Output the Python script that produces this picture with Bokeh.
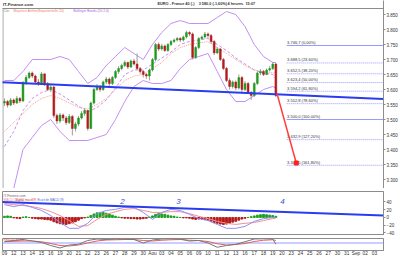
from bokeh.plotting import figure
from bokeh.layouts import column
from bokeh.models import Range1d, FixedTicker, NumeralTickFormatter, Label
from bokeh.core.properties import value
from bokeh.embed import file_html
from bokeh.resources import INLINE

FONT = "Liberation Sans"

# ---------------- data ----------------
day_labels = ["09", "12", "13", "14", "15", "16", "19", "20", "21", "22", "23", "26", "27", "28", "29", "30",
              "Aou", "03", "04", "05", "06", "09", "10", "11", "12", "13", "16", "17", "18", "19", "20",
              "23", "24", "25", "26", "27", "30", "31", "Sep", "02", "03"]
candles_per_day = 3
first_open = 3.555
closes = [3.560, 3.548, 3.565, 3.555, 3.570, 3.562, 3.623, 3.640, 3.655, 3.645,
          3.625, 3.622, 3.652, 3.620, 3.600, 3.608, 3.513, 3.495, 3.515, 3.505,
          3.490, 3.510, 3.470, 3.485, 3.505, 3.520, 3.530, 3.470, 3.555, 3.600,
          3.610, 3.600, 3.625, 3.635, 3.620, 3.640, 3.660, 3.670, 3.680, 3.690,
          3.675, 3.695, 3.685, 3.670, 3.660, 3.650, 3.645, 3.665, 3.700, 3.750,
          3.735, 3.745, 3.730, 3.750, 3.760, 3.765, 3.770, 3.765, 3.775, 3.790,
          3.785, 3.707, 3.740, 3.770, 3.775, 3.785, 3.780, 3.760, 3.722, 3.735,
          3.700, 3.670, 3.630, 3.610, 3.625, 3.605, 3.640, 3.600, 3.620, 3.590,
          3.580, 3.620, 3.655, 3.660, 3.650, 3.665, 3.670, 3.685, 3.580]
highs = [3.570, 3.565, 3.572, 3.570, 3.578, 3.575, 3.628, 3.648, 3.660, 3.660,
         3.650, 3.635, 3.658, 3.655, 3.625, 3.615, 3.612, 3.520, 3.522, 3.520,
         3.512, 3.518, 3.515, 3.492, 3.512, 3.528, 3.538, 3.532, 3.560, 3.605,
         3.618, 3.615, 3.630, 3.642, 3.640, 3.645, 3.665, 3.678, 3.686, 3.697,
         3.693, 3.700, 3.702, 3.720, 3.675, 3.665, 3.655, 3.670, 3.705, 3.755,
         3.757, 3.752, 3.750, 3.755, 3.765, 3.770, 3.775, 3.775, 3.780, 3.796,
         3.794, 3.790, 3.745, 3.775, 3.780, 3.792, 3.790, 3.785, 3.765, 3.742,
         3.738, 3.705, 3.675, 3.638, 3.630, 3.630, 3.650, 3.645, 3.628, 3.625,
         3.595, 3.625, 3.660, 3.668, 3.665, 3.670, 3.678, 3.692, 3.688]
lows = [3.545, 3.540, 3.545, 3.548, 3.552, 3.555, 3.558, 3.615, 3.635, 3.638,
        3.618, 3.612, 3.618, 3.612, 3.595, 3.592, 3.505, 3.485, 3.488, 3.495,
        3.482, 3.485, 3.447, 3.460, 3.478, 3.500, 3.512, 3.463, 3.468, 3.550,
        3.595, 3.592, 3.595, 3.618, 3.612, 3.615, 3.635, 3.652, 3.664, 3.675,
        3.668, 3.672, 3.680, 3.665, 3.652, 3.640, 3.635, 3.630, 3.660, 3.695,
        3.728, 3.730, 3.725, 3.725, 3.745, 3.755, 3.760, 3.758, 3.760, 3.770,
        3.778, 3.700, 3.702, 3.735, 3.765, 3.770, 3.772, 3.752, 3.715, 3.718,
        3.695, 3.665, 3.625, 3.600, 3.603, 3.597, 3.600, 3.590, 3.595, 3.585,
        3.565, 3.575, 3.615, 3.648, 3.645, 3.648, 3.660, 3.665, 3.575]

# indicator lines, sampled once per trading day (last point = last candle)
ind_days = [0, 1, 2, 3, 4, 5, 6, 7, 8, 9, 10, 11, 12, 13, 14, 15, 16, 17, 18, 19,
            20, 21, 22, 23, 24, 25, 26, 27, 28, 29, 29.33]
bb_upper = [3.63, 3.63, 3.66, 3.70, 3.70, 3.70, 3.71, 3.70, 3.66, 3.62, 3.64, 3.68, 3.71, 3.74, 3.72,
            3.70, 3.75, 3.79, 3.82, 3.83, 3.82, 3.82, 3.82, 3.84, 3.86, 3.85, 3.81, 3.75, 3.71, 3.69, 3.690]
bb_lower = [3.15, 3.27, 3.40, 3.44, 3.48, 3.50, 3.46, 3.43, 3.43, 3.43, 3.44, 3.45, 3.50, 3.56, 3.61,
            3.63, 3.62, 3.62, 3.63, 3.67, 3.70, 3.71, 3.72, 3.66, 3.60, 3.56, 3.56, 3.58, 3.60, 3.61, 3.605]
bb_mid = [3.41, 3.46, 3.53, 3.57, 3.59, 3.60, 3.585, 3.565, 3.545, 3.525, 3.54, 3.565, 3.605, 3.65, 3.665,
          3.665, 3.685, 3.705, 3.725, 3.75, 3.76, 3.765, 3.77, 3.75, 3.73, 3.705, 3.685, 3.665, 3.655, 3.65, 3.637]
ema20 = [3.46, 3.49, 3.52, 3.55, 3.57, 3.58, 3.57, 3.555, 3.54, 3.535, 3.55, 3.57, 3.60, 3.63, 3.645,
         3.65, 3.67, 3.69, 3.72, 3.74, 3.75, 3.755, 3.76, 3.74, 3.72, 3.70, 3.68, 3.665, 3.66, 3.655, 3.655]

trend_days = [-0.43, 40.97]
trend_price = [3.624, 3.568]

fib_high = 3.7467
fib_low = 3.5000
fib_pct = [0.0, 23.6, 38.2, 50.0, 61.8, 78.6, 100.0, 127.2, 161.8]
fib_start_day = 30.5

arrow_days = [29.45, 31.54]
arrow_price = [3.587, 3.355]

macd_line = [33, 28, 33, 26, 18, 5, -13, -28, -28, -15, 10, 18, 21, 26, 26, 13, -5, 13, 21, 18,
             8, -3, -8, -18, -28, -28, -23, -10, -3, 0, 0]
macd_signal = [36, 33, 31, 28, 23, 15, 5, -8, -23, -21, -5, 8, 15, 21, 23, 18, 13, 13, 15, 15,
               10, 3, -3, -10, -15, -18, -15, -13, -8, -3, -2]
macd_hist = [3, 4, 3, -1, -2, -3, 1, 2, 0, -2, -3, -4, -4, -5, -6, -7, -11, -14, -16, -18, -18,
             -16, -14, -11, -7, -3, -1, 1, 5, 9, 12, 13, 13, 11, 9, 6, 3, 1, -1, -2, -2, -3,
             -3, -4, -4, -3, -2, 1, 4, 8, 10, 9, 8, 6, 4, 3, 1, 0, -1, -1, -2, -4, -5, -4, -4, -5,
             -7, -10, -13, -15, -17, -18, -17, -15, -12, -10, -7, -4, -2, 0, 2, 4, 6, 7, 8, 7, 6, 5, 3]
macd_trend = [40, 5.2]

rsi = [55, 60, 64, 58, 52, 40, 30, 42, 45, 60, 66, 64, 66, 66, 64, 50, 62, 66, 67, 66,
       58, 60, 50, 33, 40, 45, 55, 66, 67, 66, 45]
rsi_signal = [56, 57, 58, 58, 55, 48, 40, 38, 42, 50, 58, 62, 63, 64, 64, 60, 58, 61, 63, 64,
              61, 60, 56, 47, 42, 44, 48, 56, 61, 63, 60]

# ---------------- layout helpers ----------------
XR = Range1d(-0.216, 40.97)
GRAY = "#8c8c8c"


def panel(height, y_range, bottom=0, top=0, yaxis=True, xaxis=False):
    p = figure(width=400, height=height, x_range=XR, y_range=y_range,
               output_backend="svg", toolbar_location=None,
               x_axis_location="below" if xaxis else None,
               y_axis_location="right" if yaxis else None,
               min_border_left=2, min_border_right=17, min_border_top=top, min_border_bottom=bottom)
    p.grid.visible = False
    p.outline_line_color = GRAY
    p.background_fill_color = "white"
    p.border_fill_color = "white"
    return p


def style_axis(ax, ticks):
    ax.ticker = FixedTicker(ticks=ticks)
    ax.major_label_text_font_size = "4.5px"
    ax.major_label_text_font = FONT
    ax.major_label_text_color = "#333333"
    ax.major_label_standoff = 1
    ax.major_tick_out = 2
    ax.major_tick_in = 0
    ax.minor_tick_out = 0
    ax.minor_tick_in = 0
    ax.axis_line_color = GRAY
    ax.major_tick_line_color = GRAY


def fmt_price(v):
    s = f"{v * 1000:.1f}"
    ent, dec = s.split(".")
    return f"{ent[0]}.{ent[1:]},{dec}"


# ---------------- main price panel (header row lives in the top 8 px of its frame) ----------------
PX = 300.0            # pixels per price unit
PLOT_TOP = 3.87       # price at the top edge of the price area
main = panel(188, Range1d(3.27, PLOT_TOP + 8 / PX))
main.outline_line_color = None
style_axis(main.yaxis[0], [3.25, 3.30, 3.35, 3.40, 3.45, 3.50, 3.55, 3.60, 3.65, 3.70, 3.75, 3.80, 3.85])
main.yaxis[0].formatter = NumeralTickFormatter(format="0.000")

# frame lines of the price area
main.line([-0.3, 41.5], [PLOT_TOP, PLOT_TOP], line_color=GRAY, line_width=1)
main.line([-0.17, -0.17], [3.2, PLOT_TOP], line_color=GRAY, line_width=1)

hdr_y = PLOT_TOP + 4.3 / PX
main.text(x=[-0.19], y=[hdr_y], text=["IT-Finance.com"], text_font=value(FONT), text_font_size="4.2px",
          text_font_style="bold", text_color="#333333", text_baseline="middle")
main.text(x=[16.54, 20.99, 24.11, 26.05], y=[hdr_y] * 4,
          text=["EURO - France 40 (-)", "3 580,0 (-1,60%)", "4 heures", "15:07"],
          text_font=value(FONT), text_font_size="3.8px", text_font_style="bold",
          text_color="#333333", text_baseline="middle")

cx = [i / candles_per_day for i in range(len(closes))]
opens = [first_open] + closes[:-1]
up = [c >= o for o, c in zip(opens, closes)]
tops = [max(o, c) for o, c in zip(opens, closes)]
bots = [min(o, c) for o, c in zip(opens, closes)]
cols = ["#1f9a1f" if u else "#b41a1a" for u in up]

# bollinger + ema
main.line(ind_days, bb_upper, line_color="#c48ff2", line_width=1)
main.line(ind_days, bb_lower, line_color="#c48ff2", line_width=1)
main.line(ind_days, bb_mid, line_color="#c48ff2", line_width=1, line_dash="3 2")
main.line(ind_days, ema20, line_color="#f3a48c", line_width=1, line_dash="1 1")

main.segment(x0=cx, y0=highs, x1=cx, y1=lows, line_color="#9a9a9a", line_width=1)
main.vbar(x=cx, width=0.2, top=tops, bottom=bots, fill_color=cols, line_color=cols, line_width=0.5)

# trend line
main.line(trend_days, trend_price, line_color="#2a3cf0", line_width=2)

# fibonacci
rng = fib_high - fib_low
fib_prices = [fib_high - p / 100.0 * rng for p in fib_pct]
for pct, fp in zip(fib_pct, fib_prices):
    solid = pct in (0.0, 100.0)
    main.line([fib_start_day, 40.97], [fp, fp], line_color="#9a9aff", line_width=1,
              line_dash="solid" if solid else "1 1")
fib_texts = [f"{fmt_price(fp)} ({pct:.2f}%)".replace(".", ",", 2).replace(",", ".", 1)
             for pct, fp in zip(fib_pct, fib_prices)]
main.text(x=[fib_start_day + 0.05] * len(fib_prices), y=[fp + 0.002 for fp in fib_prices],
          text=fib_texts, text_font=value(FONT), text_font_size="4px", text_color="#333333",
          text_baseline="bottom")

# projection arrow
main.line(arrow_days, arrow_price, line_color="#ff3b3b", line_width=1.5)
main.scatter([arrow_days[1]], [arrow_price[1]], marker="square", size=4, fill_color="#ff2020",
             line_color="#ff2020")

# legend texts
main.text(x=[-0.1, 0.97, 7.46], y=[PLOT_TOP - 2.0 / PX] * 3,
          text=["C/o:", "Moyenne Arithm(Exponentielle 20)", "Bollinger Bands (20 2.0)"],
          text_color=["#777777", "#f08070", "#b060e0"], text_font=value(FONT), text_font_size="3.3px",
          text_baseline="middle")

# right side badges
badges = [(bb_upper[-1], "#b070e8", "white"), (ema20[-1], "#f08080", "white"),
          (bb_mid[-1], "#b070e8", "white"), (closes[-1], "#a07800", "#ffd21f"),
          (trend_price[-1], "#3040e0", "white")]
for v, bc, fc in badges:
    main.add_layout(Label(x=41.1, y=v, text=f"{v:.3f}", text_font=FONT, text_font_size="4px",
                          text_color="#333333", text_baseline="middle", background_fill_color=fc,
                          border_line_color=bc, border_line_width=1))


# ---------------- separator ----------------
def sep(h):
    s = figure(width=400, height=h, x_range=Range1d(0, 1), y_range=Range1d(0, 1),
               output_backend="svg", toolbar_location=None, x_axis_location=None, y_axis_location=None,
               min_border_left=0, min_border_right=17, min_border_top=0, min_border_bottom=0)
    s.grid.visible = False
    s.outline_line_color = None
    s.background_fill_color = "#a6a6a6"
    s.border_fill_color = "white"
    return s


sep1 = sep(3)

# ---------------- MACD panel ----------------
macd = panel(44, Range1d(-46.5, 67))
style_axis(macd.yaxis[0], [-40, -20, 0, 20, 40])
hist_cols = ["#1fa01f" if h >= 0 else "#b41a1a" for h in macd_hist]
macd.vbar(x=cx, width=0.2, top=macd_hist, bottom=0, fill_color=hist_cols, line_color=hist_cols)
macd.line(ind_days, macd_signal, line_color="#f59090", line_width=1)
macd.line(ind_days, macd_line, line_color="#8f8fff", line_width=1)
macd.line(trend_days, macd_trend, line_color="#2a3cf0", line_width=2)
macd.text(x=[12.76, 18.8, 30.06], y=[41, 41, 41], text=["2", "3", "4"], text_color="#3a4ae0",
          text_font=value(FONT), text_font_size="8px", text_font_style="italic", text_baseline="middle",
          text_align="center")
macd.text(x=[-0.1], y=[57], text=["IT-Finance.com"], text_color="#666666", text_font=value(FONT),
          text_font_size="3.2px", text_baseline="middle")
macd.text(x=[-0.1, 1.19, 3.57], y=[46, 46, 46], text=["MACD (12,26)", "Signal macd(9)", "Ecart de MACD (9)"],
          text_color=["#f08080", "#d04040", "#5060e0"], text_font=value(FONT), text_font_size="3.1px",
          text_baseline="middle")
macd.add_layout(Label(x=41.1, y=macd_hist[-1], text="2.9143", text_font=FONT, text_font_size="4px",
                      text_color="#333333", text_baseline="middle", background_fill_color="white",
                      border_line_color="#f08080", border_line_width=1))

sep2 = sep(3)

# ---------------- RSI panel + date axis ----------------
rsip = panel(29, Range1d(20, 68), bottom=17, xaxis=True)
style_axis(rsip.yaxis[0], [])
ax = rsip.xaxis[0]
ax.ticker = FixedTicker(ticks=list(range(len(day_labels))))
ax.major_label_overrides = {i: lab for i, lab in enumerate(day_labels)}
ax.major_label_text_font_size = "4.8px"
ax.major_label_text_font = FONT
ax.major_label_text_color = "#333333"
ax.major_label_standoff = 0
ax.major_tick_out = 0
ax.major_tick_in = 0
ax.minor_tick_out = 0
ax.minor_tick_in = 0
ax.axis_line_color = GRAY
rsip.line([-0.3, 41], [50, 50], line_color="#9a9aff", line_width=1)
rsip.line(ind_days, rsi_signal, line_color="#e06060", line_width=1)
rsip.line(ind_days, rsi, line_color="#777777", line_width=1)
rsip.text(x=[-0.1], y=[63], text=["RSI(14)  42,93"], text_color="#c04040", text_font=value(FONT),
          text_font_size="3.2px", text_baseline="middle")

layout = column(main, sep1, macd, sep2, rsip, spacing=0)
open("out.html", "w").write(file_html(layout, INLINE))
